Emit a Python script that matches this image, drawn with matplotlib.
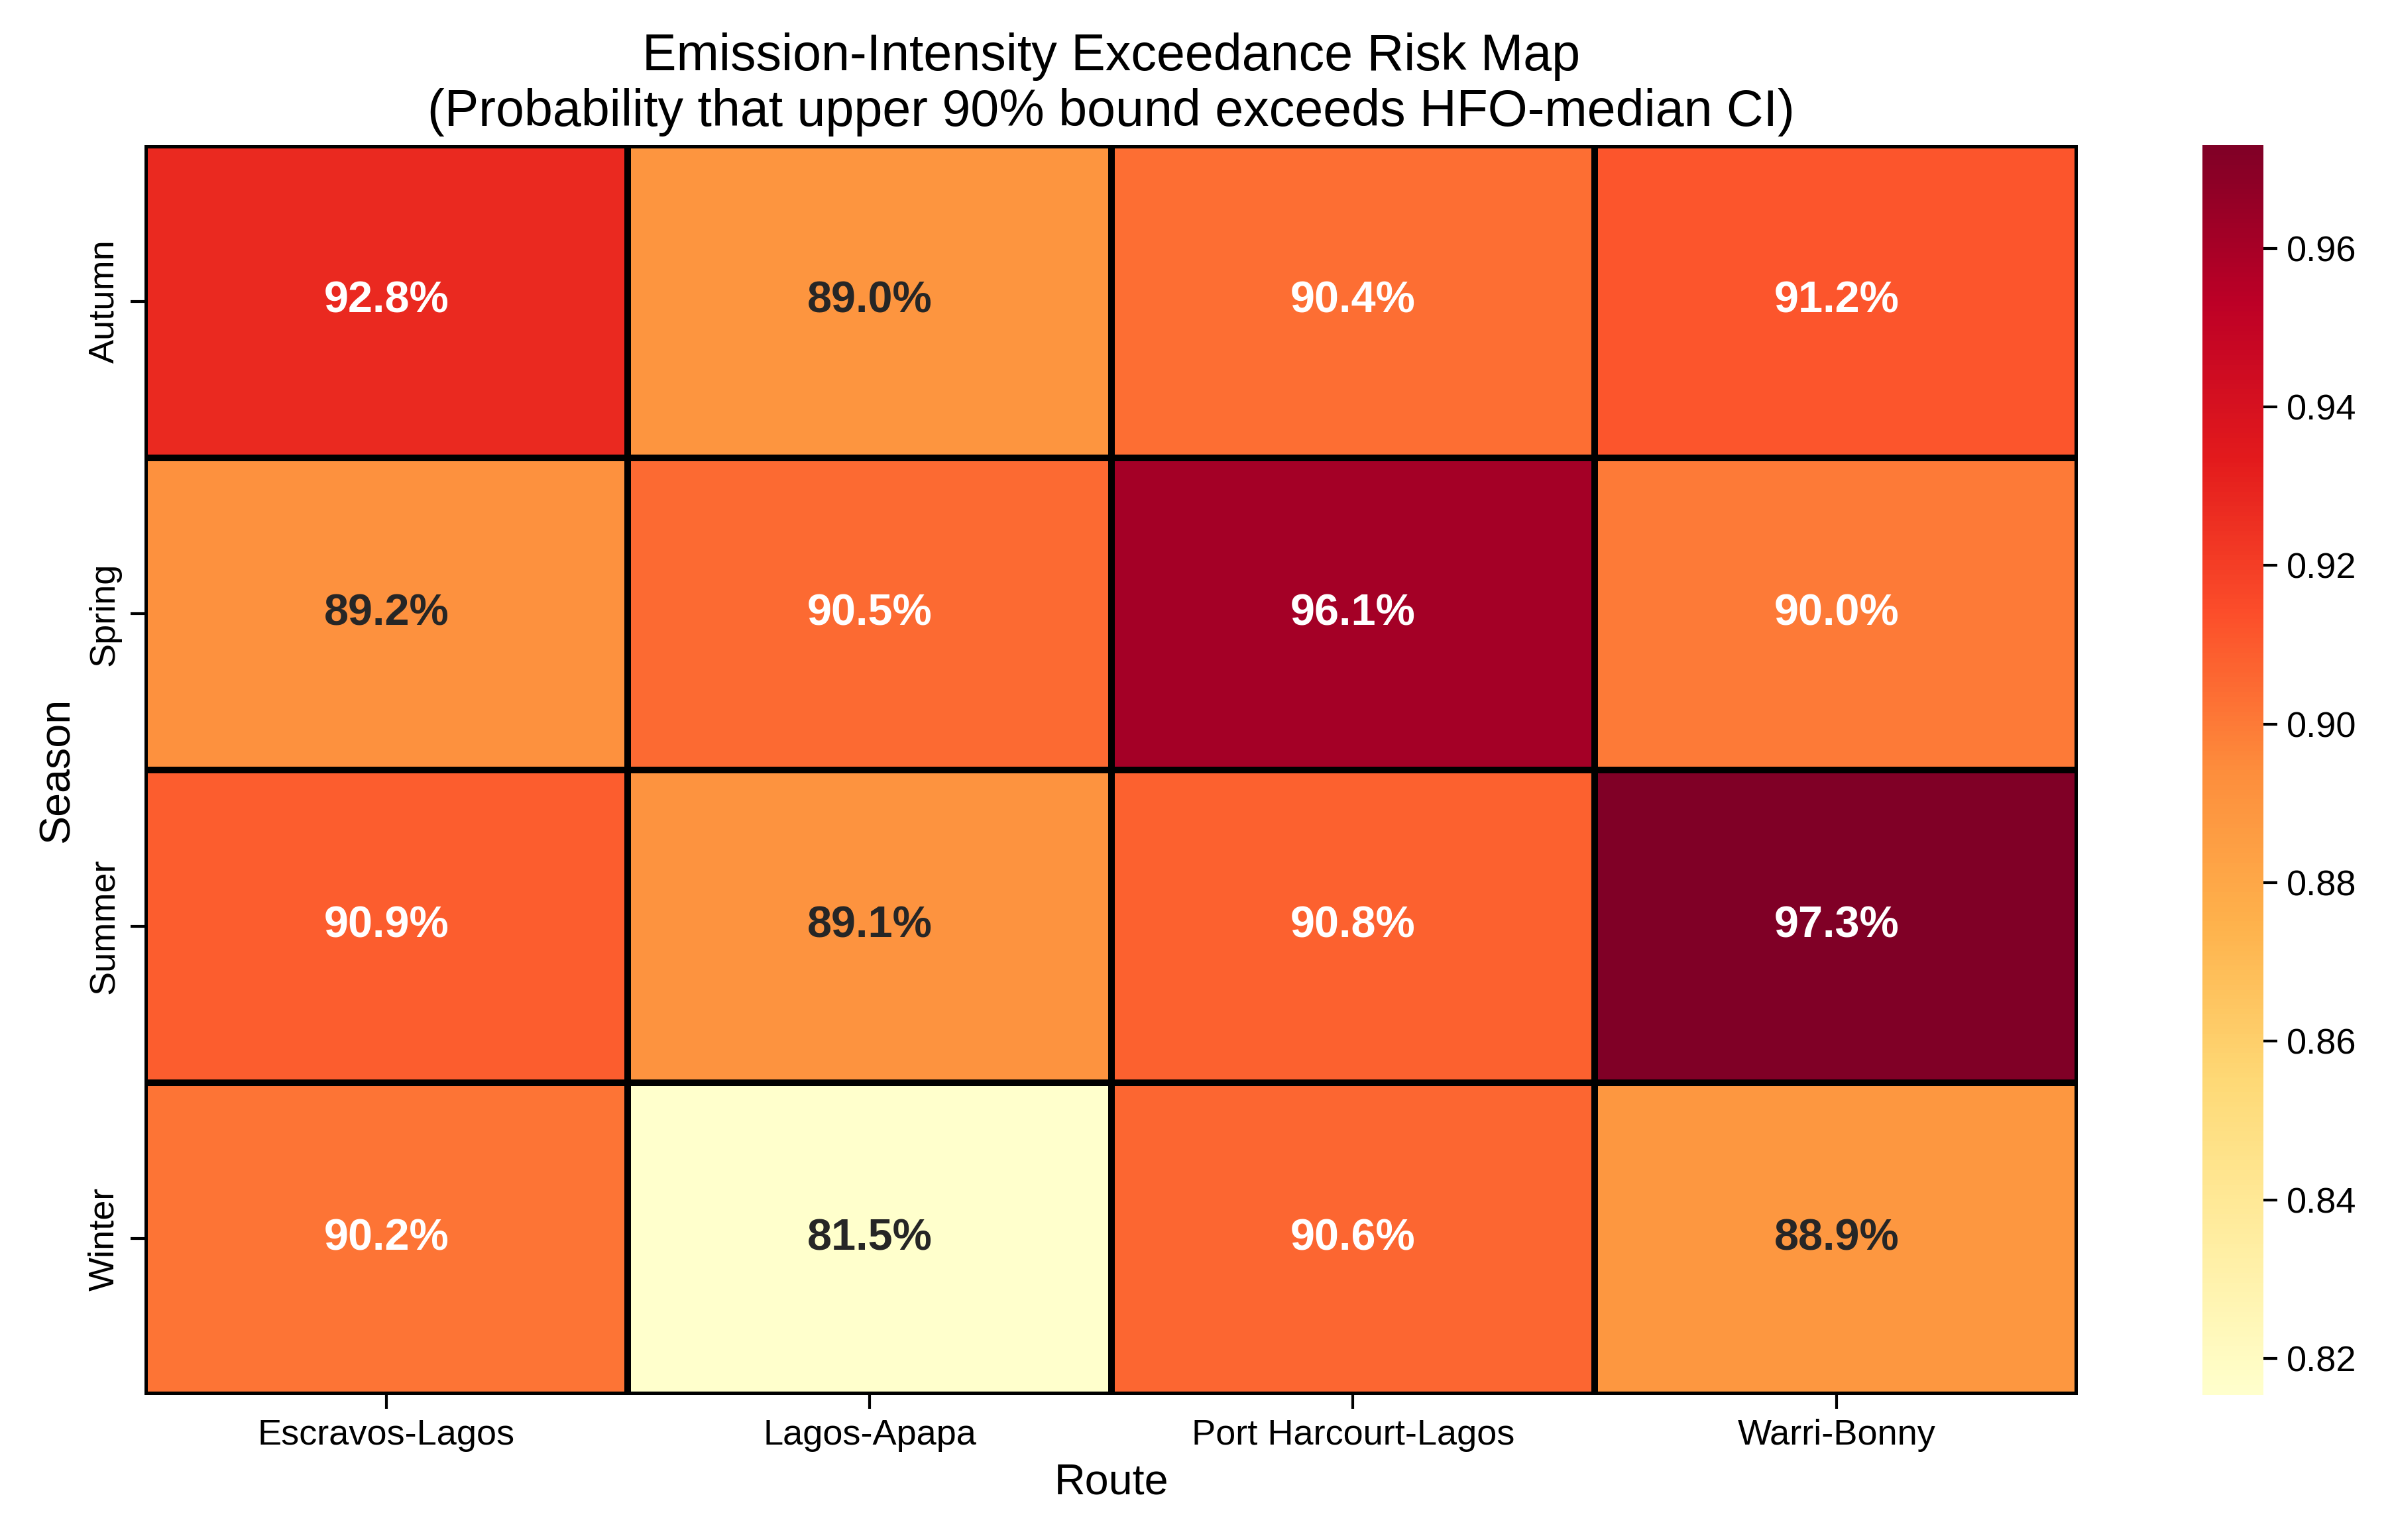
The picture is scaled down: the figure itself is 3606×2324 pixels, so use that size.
import numpy as np
import pandas as pd
import matplotlib
matplotlib.use("Agg")
import matplotlib.pyplot as plt
import seaborn as sns

plt.rcParams['font.family'] = ['Liberation Sans', 'DejaVu Sans']

seasons = ["Autumn", "Spring", "Summer", "Winter"]
routes = ["Escravos-Lagos", "Lagos-Apapa", "Port Harcourt-Lagos", "Warri-Bonny"]

autumn = [0.928, 0.890, 0.904, 0.912]
spring = [0.892, 0.905, 0.961, 0.900]
summer = [0.909, 0.891, 0.908, 0.973]
winter = [0.902, 0.8154, 0.906, 0.889]

risk = pd.DataFrame([autumn, spring, summer, winter], index=seasons, columns=routes)

fig = plt.figure(figsize=(12.02, 7.747), dpi=300)
ax = fig.add_axes([0.0605, 0.0942, 0.809, 0.8115])
cax = fig.add_axes([0.9215, 0.0942, 0.0255, 0.8115])

sns.heatmap(risk, annot=True, fmt=".1%", cmap="YlOrRd",
            linewidths=2, linecolor="black",
            annot_kws={"size": 16, "weight": "bold"},
            ax=ax, cbar_ax=cax)

ax.set_title("Emission-Intensity Exceedance Risk Map\n"
             "(Probability that upper 90% bound exceeds HFO-median CI)",
             fontsize=18.5, pad=7)
ax.set_xlabel("Route", fontsize=15.5)
ax.set_ylabel("Season", fontsize=15.5)
ax.tick_params(axis="both", labelsize=13, length=5, width=1)
ax.tick_params(axis="y", rotation=90)
for lab in ax.get_yticklabels():
    lab.set_va("center")
cax.tick_params(labelsize=13, length=5, width=1)
cax.set_yticks([0.82, 0.84, 0.86, 0.88, 0.90, 0.92, 0.94, 0.96])
cax.set_yticklabels(["0.82", "0.84", "0.86", "0.88", "0.90", "0.92", "0.94", "0.96"])

fig.savefig("out.png", dpi=300)
